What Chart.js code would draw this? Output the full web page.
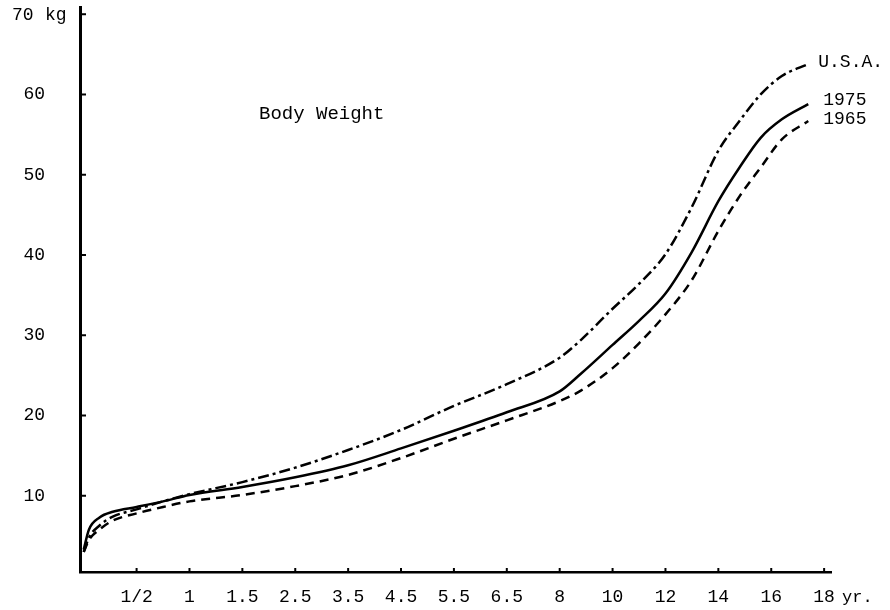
<!DOCTYPE html>
<html>
<head>
<meta charset="utf-8">
<script src="https://cdn.jsdelivr.net/npm/chart.js@4.4.1/dist/chart.umd.min.js"></script>
<style>
    html, body { margin: 0; padding: 0; background: #fff; }
    #wrap { width: 890px; height: 610px; position: relative; }
</style>
</head>
<body>
<div id="wrap"><canvas id="myChart" width="890" height="610"></canvas></div>
<script>
// positions on the age axis (0 = birth, 1 = 1/2 yr, 2 = 1 yr ... 14 = 18 yr)
const agePos = [0, 0.1, 0.3, 0.55, 1, 1.5, 2, 3, 4, 5, 6, 7, 8, 9, 9.4, 10, 10.5, 11, 11.5, 12, 12.4, 12.8, 13.2, 13.7];
const usaWeight = [3.0, 4.8, 6.3, 7.4, 8.3, 9.3, 10.2, 11.7, 13.5, 15.7, 18.2, 21.2, 23.9, 27.2, 29.4, 33.3, 36.4, 40.1, 46.0, 53.0, 56.7, 60.0, 62.3, 63.8];
const weight1975 = [3.3, 5.8, 7.3, 8.0, 8.6, 9.3, 10.1, 11.1, 12.3, 13.8, 15.9, 18.1, 20.4, 23.0, 25.2, 28.8, 31.8, 35.2, 40.4, 46.7, 50.9, 54.6, 56.9, 58.8];
const weight1965 = [3.0, 4.5, 5.8, 6.9, 7.8, 8.6, 9.3, 10.1, 11.2, 12.6, 14.7, 17.1, 19.4, 21.8, 23.1, 25.9, 29.0, 32.6, 36.9, 43.0, 47.3, 50.9, 54.4, 56.7];

const ageLabels = ['1/2', '1', '1.5', '2.5', '3.5', '4.5', '5.5', '6.5', '8', '10', '12', '14', '16', '18'];
const ageTicks = [1, 2, 3, 4, 5, 6, 7, 8, 9, 10, 11, 12, 13, 14];
const kgTicks = [10, 20, 30, 40, 50, 60, 70];
const seriesNames = ['U.S.A.', '1975', '1965'];

const FONT = "'Liberation Mono', 'DejaVu Sans Mono', monospace";

var toPoints = (xs, ys) => {
    let pts = [];
    for (let i = 0; i < xs.length; i++) {
        pts.push({ x: xs[i], y: ys[i] });
    }
    return pts;
}

var makeSet = (label, ys, dash) => {
    return {
        label: label,
        data: toPoints(agePos, ys),
        borderColor: '#000',
        borderWidth: 2.5,
        borderDash: dash,
        pointRadius: 0,
        fill: false,
        cubicInterpolationMode: 'monotone'
    };
}

// end labels, small ticks, and free texts
const annotate = {
    id: 'annotate',
    afterDraw: (chart) => {
        const ctx = chart.ctx;
        const xs = chart.scales.x;
        const ys = chart.scales.y;
        ctx.save();
        ctx.fillStyle = '#000';
        ctx.strokeStyle = '#000';
        ctx.lineWidth = 2;

        // little tick marks inside the axes
        kgTicks.forEach(v => {
            const py = ys.getPixelForValue(v);
            ctx.beginPath();
            ctx.moveTo(xs.left, py);
            ctx.lineTo(xs.left + 6, py);
            ctx.stroke();
        });
        ageTicks.forEach(v => {
            const px = xs.getPixelForValue(v);
            ctx.beginPath();
            ctx.moveTo(px, ys.bottom);
            ctx.lineTo(px, ys.bottom - 4);
            ctx.stroke();
        });

        ctx.font = '18px ' + FONT;
        ctx.textBaseline = 'middle';
        ctx.textAlign = 'left';
        const ends = [usaWeight, weight1975, weight1965];
        const offs = [[10, -2], [15, -4], [15, -2]];
        for (let i = 0; i < ends.length; i++) {
            const last = ends[i].length - 1;
            const px = xs.getPixelForValue(agePos[last]);
            const py = ys.getPixelForValue(ends[i][last]);
            ctx.fillText(seriesNames[i], px + offs[i][0], py + offs[i][1]);
        }

        ctx.fillText('70', 12, ys.getPixelForValue(70) + 1);
        ctx.fillText('kg', 45, ys.getPixelForValue(70) + 1);
        ctx.font = '19px ' + FONT;
        ctx.fillText('Body Weight', 259, 114);
        ctx.font = '17px ' + FONT;
        ctx.fillText('yr.', 842, 597);
        ctx.restore();
    }
};

window.onload = () => {
    const ctx = document.getElementById('myChart').getContext('2d');
    Chart.defaults.font.family = FONT;
    Chart.defaults.color = '#000';

    new Chart(ctx, {
        type: 'line',
        data: {
            datasets: [
                makeSet(seriesNames[0], usaWeight, [11, 4, 3, 4]),
                makeSet(seriesNames[1], weight1975, []),
                makeSet(seriesNames[2], weight1965, [9, 6])
            ]
        },
        options: {
            responsive: false,
            animation: false,
            layout: { padding: { left: 0, right: 59, top: 7, bottom: 0 } },
            plugins: {
                legend: { display: false },
                tooltip: { enabled: false }
            },
            scales: {
                x: {
                    type: 'linear',
                    min: -0.07,
                    max: 14.13,
                    afterBuildTicks: (scale) => {
                        scale.ticks = ageTicks.map(v => ({ value: v }));
                    },
                    afterFit: (scale) => {
                        scale.height = 38;
                        scale.paddingLeft = 0;
                        scale.paddingRight = 0;
                    },
                    ticks: {
                        autoSkip: false,
                        maxRotation: 0,
                        padding: 14,
                        font: { size: 18 },
                        callback: (value) => ageLabels[ageTicks.indexOf(value)]
                    },
                    grid: { drawOnChartArea: false, drawTicks: false },
                    border: { display: true, color: '#000', width: 2.5 }
                },
                y: {
                    type: 'linear',
                    min: 0.5,
                    max: 70.9,
                    afterBuildTicks: (scale) => {
                        scale.ticks = kgTicks.map(v => ({ value: v }));
                    },
                    afterFit: (scale) => {
                        scale.width = 80;
                        scale.paddingTop = 0;
                        scale.paddingBottom = 0;
                    },
                    ticks: {
                        padding: 35,
                        font: { size: 18 },
                        callback: (value) => value == 70 ? '' : String(value)
                    },
                    grid: { drawOnChartArea: false, drawTicks: false },
                    border: { display: true, color: '#000', width: 3 }
                }
            }
        },
        plugins: [annotate]
    });
}
</script>
</body>
</html>
